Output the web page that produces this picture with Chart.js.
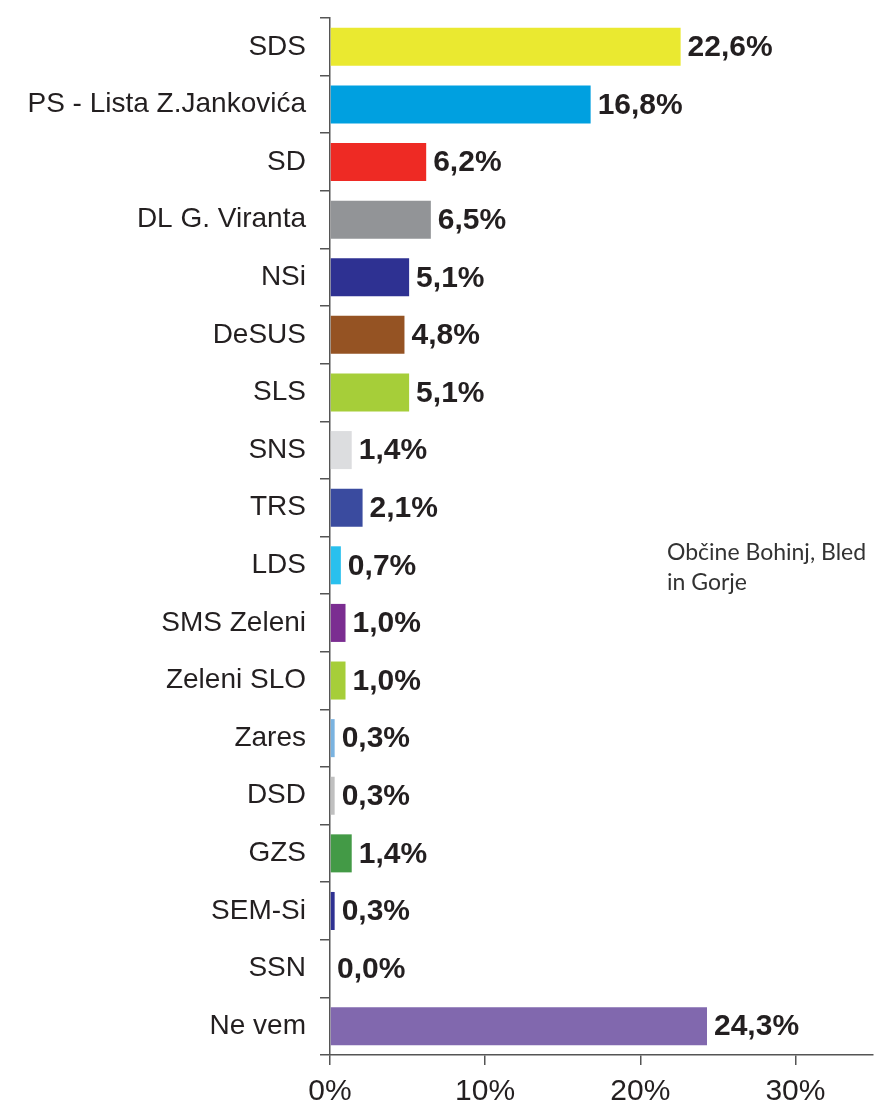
<!DOCTYPE html>
<html>
<head>
<meta charset="utf-8">
<script src="https://cdn.jsdelivr.net/npm/chart.js@4/dist/chart.umd.min.js"></script>
<style>
html,body{margin:0;padding:0;background:#fff;}
#wrap{width:890px;height:1113px;}
</style>
</head>
<body>
<div id="wrap"><canvas id="c" width="890" height="1113"></canvas></div>
<script>
const categories = ["SDS","PS - Lista Z.Jankovića","SD","DL G. Viranta","NSi","DeSUS","SLS","SNS","TRS","LDS","SMS Zeleni","Zeleni SLO","Zares","DSD","GZS","SEM-Si","SSN","Ne vem"];
const values = [22.6,16.8,6.2,6.5,5.1,4.8,5.1,1.4,2.1,0.7,1.0,1.0,0.3,0.3,1.4,0.3,0.0,24.3];
const barColors = ["#eae930","#00a0e0","#ee2a24","#929497","#2e3192","#955323","#a6ce39","#dcdddf","#3a4b9f","#29c0ee","#7b2d91","#a6ce39","#7ab3e0","#c0c0c0","#439a46","#2e3192","#ffffff","#8168ae"];
const xTicks = [0,10,20,30];
const note = ["Občine Bohinj, Bled","in Gorje"];

const valueLabels = {
  id:'valueLabels',
  afterDatasetsDraw(chart){
    const ctx = chart.ctx;
    const meta = chart.getDatasetMeta(0);
    ctx.save();
    ctx.font = 'bold 30px "Liberation Sans", Arial, sans-serif';
    ctx.fillStyle = '#231f20';
    ctx.textBaseline = 'middle';
    ctx.textAlign = 'left';
    meta.data.forEach((bar,i)=>{
      const txt = values[i].toFixed(1).replace('.',',') + '%';
      ctx.fillText(txt, bar.x + 7, bar.y + 1);
    });
    ctx.font = '23px Lato, "Open Sans", sans-serif';
    ctx.fillStyle = '#333';
    ctx.textBaseline = 'middle';
    ctx.fillText(note[0], 667, 553);
    ctx.fillText(note[1], 667, 583);
    ctx.restore();
  }
};

new Chart(document.getElementById('c'), {
  type:'bar',
  data:{
    labels:categories,
    datasets:[{data:values, backgroundColor:barColors, borderWidth:0, categoryPercentage:1, barPercentage:0.66}]
  },
  options:{
    indexAxis:'y',
    responsive:false,
    animation:false,
    layout:{padding:{top:18,right:17,left:0,bottom:0}},
    plugins:{legend:{display:false},tooltip:{enabled:false}},
    scales:{
      x:{
        min:0,max:35,
        afterBuildTicks(axis){ axis.ticks = xTicks.map(v=>({value:v})); },
        afterFit(axis){ axis.height = 58; axis.paddingLeft = 0; axis.paddingRight = 0; },
        grid:{drawOnChartArea:false, drawTicks:true, tickLength:10, color:'#555', lineWidth:1.5},
        border:{color:'#555', width:1.5},
        ticks:{font:{family:'"Liberation Sans", Arial, sans-serif', size:30}, color:'#231f20', padding:9,
          callback:(v)=>v+'%'}
      },
      y:{
        afterFit(axis){ axis.width = 330; axis.paddingTop = 0; axis.paddingBottom = 0; },
        grid:{offset:true, drawOnChartArea:false, drawTicks:true, tickLength:10, color:'#555', lineWidth:1.5},
        border:{color:'#555', width:1.5},
        ticks:{font:{family:'"Liberation Sans", Arial, sans-serif', size:28}, color:'#231f20', padding:14}
      }
    }
  },
  plugins:[valueLabels]
});
</script>
</body>
</html>
